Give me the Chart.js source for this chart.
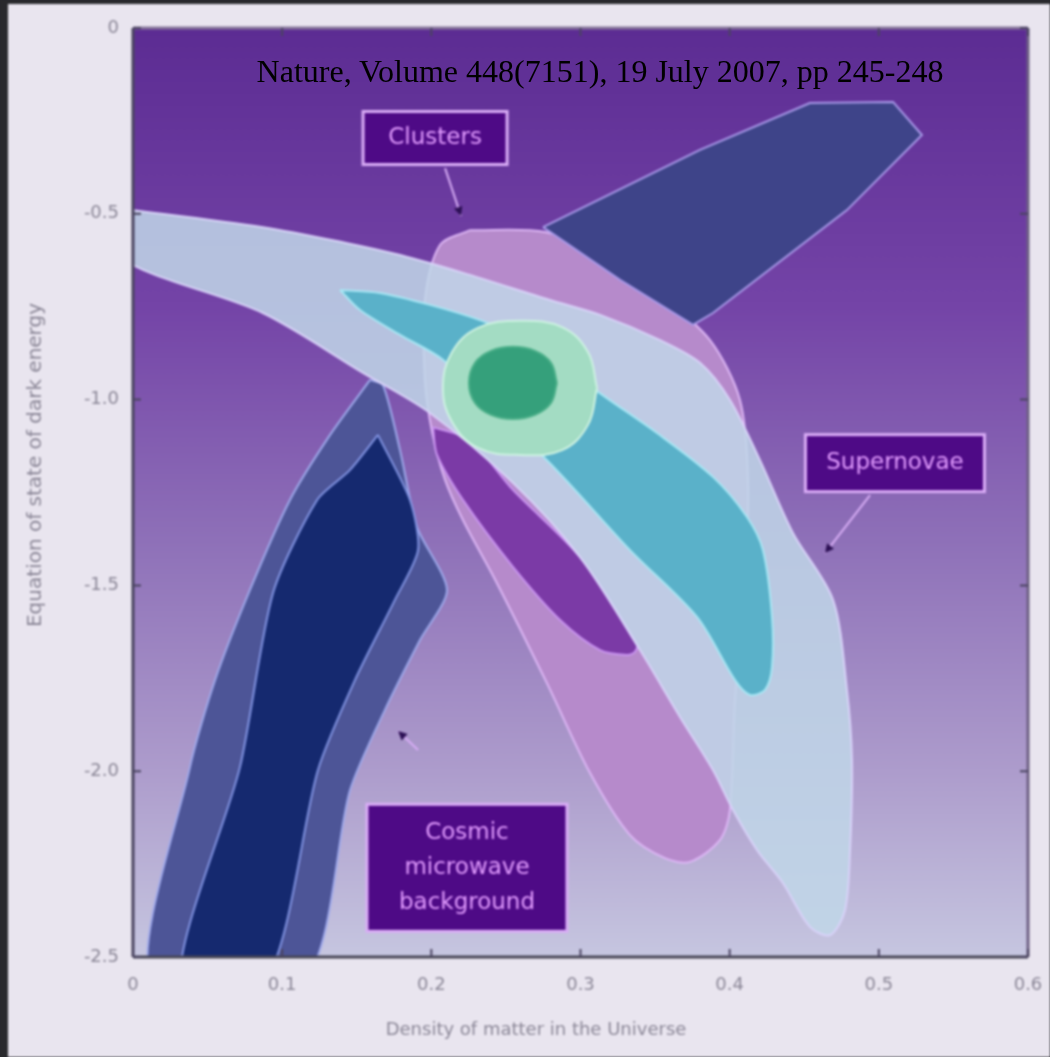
<!DOCTYPE html>
<html>
<head>
<meta charset="utf-8">
<script src="https://cdn.jsdelivr.net/npm/chart.js@4.4.1/dist/chart.umd.min.js"></script>
<style>
  html, body { margin: 0; padding: 0; background: #29292d; }
  #wrap { position: relative; width: 1050px; height: 1057px; overflow: hidden; }
  #plot { display: block; filter: blur(0.9px); }
  #source-note {
    position: absolute; left: 600px; top: 55px; transform: translateX(-50%);
    white-space: nowrap; font-family: "Liberation Serif", "DejaVu Serif", serif;
    font-size: 32px; line-height: 32px; color: #000;
  }
</style>
</head>
<body>
<div id="wrap">
  <canvas id="plot" width="1050" height="1057"></canvas>
  <div id="source-note">Nature, Volume 448(7151), 19 July 2007, pp 245-248</div>
</div>
<script>
// axis ticks
const xTicks = [0, 0.1, 0.2, 0.3, 0.4, 0.5, 0.6];
const yTicks = [0, -0.5, -1.0, -1.5, -2.0, -2.5];

// contour outlines (x = matter density, y = w)
const clustersOuterX = [0.2259, 0.2762, 0.3131, 0.3533, 0.3868, 0.4069, 0.4123, 0.4103, 0.4036, 0.4002, 0.3935, 0.3734, 0.3566, 0.3332, 0.3064, 0.2775, 0.2440, 0.2212, 0.2092, 0.2005, 0.1957, 0.1957, 0.2058];
const clustersOuterY = [-0.544, -0.549, -0.611, -0.719, -0.840, -1.001, -1.216, -1.485, -1.808, -2.104, -2.185, -2.244, -2.234, -2.172, -2.005, -1.763, -1.494, -1.324, -1.216, -1.087, -0.947, -0.732, -0.584];

const clustersWingX = [0.2749, 0.3801, 0.4538, 0.5095, 0.5289, 0.4786, 0.3888, 0.3754, 0.3265];
const clustersWingY = [-0.536, -0.328, -0.202, -0.199, -0.288, -0.490, -0.767, -0.799, -0.678];

const clustersInnerX = [0.2011, 0.2259, 0.2547, 0.2997, 0.3379, 0.3365, 0.3312, 0.3131, 0.2863, 0.2547, 0.2212, 0.2038];
const clustersInnerY = [-1.074, -1.109, -1.243, -1.424, -1.655, -1.679, -1.687, -1.674, -1.593, -1.450, -1.270, -1.149];

const cmbOuterX = [0.1589, 0.1321, 0.1052, 0.0784, 0.0550, 0.0382, 0.0121, 0.1150, 0.1455, 0.1689, 0.1924, 0.2105, 0.1904, 0.1790, 0.1676];
const cmbOuterY = [-0.947, -1.095, -1.270, -1.512, -1.755, -1.989, -2.560, -2.560, -2.051, -1.835, -1.647, -1.512, -1.343, -1.136, -0.961];

const cmbInnerX = [0.1642, 0.1455, 0.1234, 0.0939, 0.0717, 0.0319, 0.0894, 0.1240, 0.1488, 0.1756, 0.1911, 0.1857];
const cmbInnerY = [-1.095, -1.189, -1.270, -1.520, -1.989, -2.560, -2.560, -1.997, -1.755, -1.539, -1.405, -1.270];

const snOuterX = [-0.01, 0.0871, 0.1435, 0.1790, 0.2212, 0.2795, 0.3131, 0.3533, 0.3801, 0.4002, 0.4203, 0.4424, 0.4693, 0.4786, 0.4820, 0.4807, 0.4773, 0.4673, 0.4538, 0.4357, 0.4183, 0.4022, 0.3888, 0.3667, 0.3399, 0.2997, 0.2547, 0.1991, 0.1542, 0.0871, -0.01];
const snOuterY = [-0.485, -0.536, -0.579, -0.611, -0.659, -0.732, -0.772, -0.840, -0.901, -1.001, -1.163, -1.359, -1.539, -1.781, -1.970, -2.212, -2.374, -2.441, -2.419, -2.301, -2.212, -2.104, -1.997, -1.854, -1.674, -1.424, -1.224, -1.036, -0.928, -0.767, -0.614];

const snInnerX = [0.1388, 0.1656, 0.1991, 0.2326, 0.2728, 0.3084, 0.3513, 0.3888, 0.4116, 0.4223, 0.4284, 0.4284, 0.4237, 0.4136, 0.4036, 0.3781, 0.3332, 0.2775, 0.2326, 0.2078, 0.1790, 0.1522];
const snInnerY = [-0.705, -0.713, -0.745, -0.786, -0.853, -0.969, -1.090, -1.208, -1.316, -1.405, -1.585, -1.720, -1.781, -1.795, -1.755, -1.585, -1.405, -1.163, -1.001, -0.893, -0.826, -0.759];

const combinedOuterX = [0.3111, 0.3050, 0.2876, 0.2594, 0.2313, 0.2139, 0.2078, 0.2139, 0.2313, 0.2594, 0.2876, 0.3050];
const combinedOuterY = [-0.969, -1.068, -1.136, -1.149, -1.130, -1.060, -0.969, -0.872, -0.807, -0.788, -0.805, -0.872];

const combinedInnerX = [0.2842, 0.2802, 0.2695, 0.2547, 0.2400, 0.2293, 0.2252, 0.2293, 0.2400, 0.2547, 0.2695, 0.2802];
const combinedInnerY = [-0.955, -1.009, -1.041, -1.052, -1.041, -1.009, -0.955, -0.901, -0.869, -0.858, -0.869, -0.901];

// labels on the plot
const noteBoxes = [
  { lines: ["Clusters"], x: 0.2025, y: -0.296, w: 144, h: 53 },
  { lines: ["Supernovae"], x: 0.5108, y: -1.171, w: 179, h: 57 },
  { lines: ["Cosmic", "microwave", "background"], x: 0.2239, y: -2.26, w: 200, h: 127 },
];
const notePointers = [
  { from: [0.2092, -0.377], to: [0.2199, -0.506] },
  { from: [0.4941, -1.257], to: [0.4639, -1.413] },
  { from: [0.1911, -1.943], to: [0.1777, -1.892] },
];

function polygon(xs, ys) {
  const pts = xs.map((x, i) => ({ x: x, y: ys[i] }));
  pts.push({ x: xs[0], y: ys[0] });
  return pts;
}

// back to front
const layers = [
  { label: "Clusters outer", xs: clustersOuterX, ys: clustersOuterY, fill: "#b68acb", line: "#dcb6f4", tension: 0.3 },
  { label: "Clusters wing", xs: clustersWingX, ys: clustersWingY, fill: "#3e4489", line: "#a898e8", tension: 0 },
  { label: "Clusters inner", xs: clustersInnerX, ys: clustersInnerY, fill: "#7b3aa6", line: "#c994f0", tension: 0.3 },
  { label: "CMB outer", xs: cmbOuterX, ys: cmbOuterY, fill: "#4d5597", line: "#9ea8ea", tension: 0.25 },
  { label: "CMB inner", xs: cmbInnerX, ys: cmbInnerY, fill: "#15296f", line: "#8294e2", tension: 0.25 },
  { label: "Supernovae outer", xs: snOuterX, ys: snOuterY, fill: "rgba(192,214,232,0.86)", line: "#d8d2f8", tension: 0.3 },
  { label: "Supernovae inner", xs: snInnerX, ys: snInnerY, fill: "#5ab1c9", line: "#a8e6f4", tension: 0.3 },
  { label: "Combined outer", xs: combinedOuterX, ys: combinedOuterY, fill: "#a3dcc3", line: "#cdf2e2", tension: 0.4 },
  { label: "Combined inner", xs: combinedInnerX, ys: combinedInnerY, fill: "#35a07b", line: "#4db08a", tension: 0.4 },
];

const datasets = layers.map((l, i) => ({
  label: l.label,
  data: polygon(l.xs, l.ys),
  showLine: true,
  fill: "shape",
  backgroundColor: l.fill,
  borderColor: l.line,
  borderWidth: 2,
  tension: l.tension,
  pointRadius: 0,
  order: layers.length - i,
}));

const tickFont = { family: "DejaVu Sans", size: 18 };
const greyText = "#8b8797";

const plotDecor = {
  id: "plotDecor",
  beforeDraw(chart) {
    const { ctx, chartArea: a, width, height } = chart;
    ctx.save();
    ctx.fillStyle = "#e9e5ef";
    ctx.fillRect(0, 0, width, height);
    ctx.fillStyle = "#29292d";
    ctx.fillRect(0, 0, 8, height);
    ctx.fillRect(0, 0, width, 4);
    const g = ctx.createLinearGradient(0, a.top, 0, a.bottom);
    g.addColorStop(0, "#5c2c93");
    g.addColorStop(0.3, "#7444a7");
    g.addColorStop(0.55, "#8e70b8");
    g.addColorStop(0.8, "#ad9ccc");
    g.addColorStop(1, "#c6c6e0");
    ctx.fillStyle = g;
    ctx.fillRect(a.left, a.top, a.right - a.left, a.bottom - a.top);
    ctx.restore();
  },
  afterDatasetsDraw(chart) {
    const { ctx, chartArea: a, scales } = chart;
    const sx = scales.x, sy = scales.y;
    ctx.save();

    // frame
    ctx.lineWidth = 3;
    ctx.strokeStyle = "#857599";
    ctx.beginPath(); ctx.moveTo(a.left, a.top); ctx.lineTo(a.right, a.top); ctx.stroke();
    ctx.strokeStyle = "#6e6084";
    ctx.beginPath(); ctx.moveTo(a.right, a.top); ctx.lineTo(a.right, a.bottom); ctx.stroke();
    ctx.strokeStyle = "#4a4460";
    ctx.beginPath(); ctx.moveTo(a.left, a.top); ctx.lineTo(a.left, a.bottom); ctx.stroke();
    ctx.strokeStyle = "#474656";
    ctx.beginPath(); ctx.moveTo(a.left, a.bottom); ctx.lineTo(a.right, a.bottom); ctx.stroke();

    // inward tick marks
    ctx.lineWidth = 2;
    ctx.strokeStyle = "#4a4460";
    sx.ticks.forEach((t) => {
      const px = sx.getPixelForValue(t.value);
      ctx.beginPath();
      ctx.moveTo(px, a.bottom); ctx.lineTo(px, a.bottom - 8);
      ctx.moveTo(px, a.top); ctx.lineTo(px, a.top + 8);
      ctx.stroke();
    });
    sy.ticks.forEach((t) => {
      const py = sy.getPixelForValue(t.value);
      ctx.beginPath();
      ctx.moveTo(a.left, py); ctx.lineTo(a.left + 8, py);
      ctx.moveTo(a.right, py); ctx.lineTo(a.right - 8, py);
      ctx.stroke();
    });

    // pointers
    notePointers.forEach((p) => {
      const x1 = sx.getPixelForValue(p.from[0]), y1 = sy.getPixelForValue(p.from[1]);
      const x2 = sx.getPixelForValue(p.to[0]), y2 = sy.getPixelForValue(p.to[1]);
      ctx.strokeStyle = "#d6acf4";
      ctx.lineWidth = 2;
      ctx.beginPath(); ctx.moveTo(x1, y1); ctx.lineTo(x2, y2); ctx.stroke();
      const ang = Math.atan2(y2 - y1, x2 - x1);
      ctx.fillStyle = "#2c1054";
      ctx.beginPath();
      ctx.moveTo(x2, y2);
      ctx.lineTo(x2 - 10 * Math.cos(ang - 0.45), y2 - 10 * Math.sin(ang - 0.45));
      ctx.lineTo(x2 - 10 * Math.cos(ang + 0.45), y2 - 10 * Math.sin(ang + 0.45));
      ctx.closePath();
      ctx.fill();
    });

    // label boxes
    noteBoxes.forEach((b) => {
      const cx = sx.getPixelForValue(b.x), cy = sy.getPixelForValue(b.y);
      ctx.fillStyle = "#4e0a86";
      ctx.fillRect(cx - b.w / 2, cy - b.h / 2, b.w, b.h);
      ctx.strokeStyle = "#d9acf6";
      ctx.lineWidth = 3;
      ctx.strokeRect(cx - b.w / 2, cy - b.h / 2, b.w, b.h);
      ctx.fillStyle = "#e29cff";
      ctx.font = "23px 'DejaVu Sans'";
      ctx.textAlign = "center";
      ctx.textBaseline = "middle";
      const lh = 35;
      b.lines.forEach((s, i) => {
        ctx.fillText(s, cx, cy + (i - (b.lines.length - 1) / 2) * lh);
      });
    });

    // axis titles
    ctx.fillStyle = greyText;
    ctx.font = "18px 'DejaVu Sans'";
    ctx.textAlign = "center";
    ctx.textBaseline = "middle";
    ctx.fillText("Density of matter in the Universe", 536, 1030);
    ctx.translate(36, 465);
    ctx.rotate(-Math.PI / 2);
    ctx.font = "20px 'DejaVu Sans'";
    ctx.fillText("Equation of state of dark energy", 0, 0);
    ctx.restore();
  },
};

const ctx = document.getElementById("plot").getContext("2d");
new Chart(ctx, {
  type: "scatter",
  data: { datasets: datasets },
  options: {
    responsive: false,
    animation: false,
    events: [],
    layout: { padding: { left: 10, top: 28, right: 22, bottom: 0 } },
    plugins: { legend: { display: false }, tooltip: { enabled: false } },
    scales: {
      x: {
        type: "linear",
        min: xTicks[0],
        max: xTicks[xTicks.length - 1],
        afterFit(scale) {
          scale.height = 100;
          scale.paddingLeft = 0;
          scale.paddingRight = 0;
        },
        afterBuildTicks(scale) { scale.ticks = xTicks.map((v) => ({ value: v })); },
        grid: { display: false, drawTicks: false },
        border: { display: false },
        ticks: {
          padding: 18,
          color: greyText,
          font: tickFont,
          maxRotation: 0,
          autoSkip: false,
          callback: (v) => (v === 0 ? "0" : v.toFixed(1)),
        },
      },
      y: {
        type: "linear",
        min: yTicks[yTicks.length - 1],
        max: yTicks[0],
        afterFit(scale) {
          scale.width = 123;
          scale.paddingTop = 0;
          scale.paddingBottom = 0;
        },
        afterBuildTicks(scale) { scale.ticks = yTicks.map((v) => ({ value: v })); },
        grid: { display: false, drawTicks: false },
        border: { display: false },
        ticks: {
          padding: 14,
          color: greyText,
          font: tickFont,
          autoSkip: false,
          callback: (v) => (v === 0 ? "0" : v.toFixed(1)),
        },
      },
    },
  },
  plugins: [plotDecor],
});
</script>
</body>
</html>
